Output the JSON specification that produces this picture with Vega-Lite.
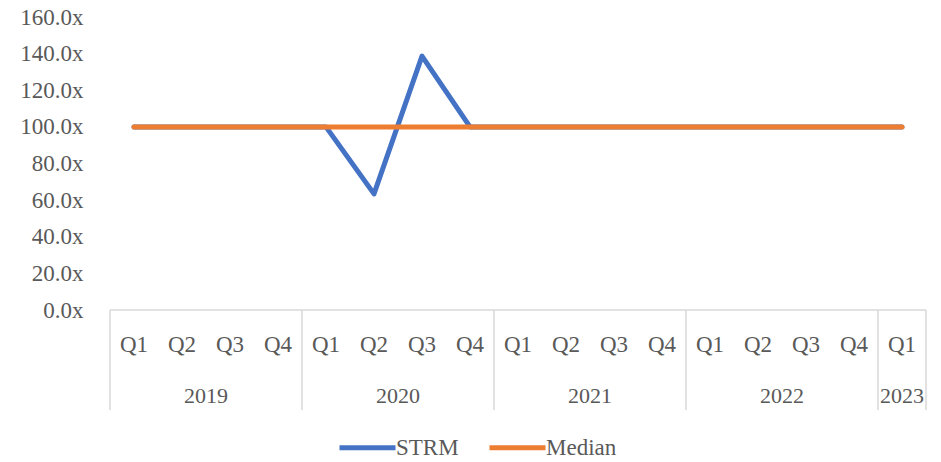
{
  "$schema": "https://vega.github.io/schema/vega-lite/v6.json",
  "width": 816,
  "height": 393,
  "autosize": {"type": "none"},
  "padding": {"left": 110, "top": 17, "right": 15, "bottom": 52},
  "config": {
    "font": "Liberation Serif",
    "view": {"stroke": null},
    "axis": {"labelFont": "Liberation Serif"},
    "text": {"font": "Liberation Serif"}
  },
  "datasets": {
    "series": [
      {"pos": 0.5, "series": "STRM", "value": 100},
      {"pos": 1.5, "series": "STRM", "value": 100},
      {"pos": 2.5, "series": "STRM", "value": 100},
      {"pos": 3.5, "series": "STRM", "value": 100},
      {"pos": 4.5, "series": "STRM", "value": 100},
      {"pos": 5.5, "series": "STRM", "value": 63.4},
      {"pos": 6.5, "series": "STRM", "value": 138.6},
      {"pos": 7.5, "series": "STRM", "value": 100},
      {"pos": 8.5, "series": "STRM", "value": 100},
      {"pos": 9.5, "series": "STRM", "value": 100},
      {"pos": 10.5, "series": "STRM", "value": 100},
      {"pos": 11.5, "series": "STRM", "value": 100},
      {"pos": 12.5, "series": "STRM", "value": 100},
      {"pos": 13.5, "series": "STRM", "value": 100},
      {"pos": 14.5, "series": "STRM", "value": 100},
      {"pos": 15.5, "series": "STRM", "value": 100},
      {"pos": 16.5, "series": "STRM", "value": 100},
      {"pos": 0.5, "series": "Median", "value": 100},
      {"pos": 1.5, "series": "Median", "value": 100},
      {"pos": 2.5, "series": "Median", "value": 100},
      {"pos": 3.5, "series": "Median", "value": 100},
      {"pos": 4.5, "series": "Median", "value": 100},
      {"pos": 5.5, "series": "Median", "value": 100},
      {"pos": 6.5, "series": "Median", "value": 100},
      {"pos": 7.5, "series": "Median", "value": 100},
      {"pos": 8.5, "series": "Median", "value": 100},
      {"pos": 9.5, "series": "Median", "value": 100},
      {"pos": 10.5, "series": "Median", "value": 100},
      {"pos": 11.5, "series": "Median", "value": 100},
      {"pos": 12.5, "series": "Median", "value": 100},
      {"pos": 13.5, "series": "Median", "value": 100},
      {"pos": 14.5, "series": "Median", "value": 100},
      {"pos": 15.5, "series": "Median", "value": 100},
      {"pos": 16.5, "series": "Median", "value": 100}
    ],
    "quarters": [
      {"pos": 0.5, "label": "Q1"}, {"pos": 1.5, "label": "Q2"}, {"pos": 2.5, "label": "Q3"}, {"pos": 3.5, "label": "Q4"},
      {"pos": 4.5, "label": "Q1"}, {"pos": 5.5, "label": "Q2"}, {"pos": 6.5, "label": "Q3"}, {"pos": 7.5, "label": "Q4"},
      {"pos": 8.5, "label": "Q1"}, {"pos": 9.5, "label": "Q2"}, {"pos": 10.5, "label": "Q3"}, {"pos": 11.5, "label": "Q4"},
      {"pos": 12.5, "label": "Q1"}, {"pos": 13.5, "label": "Q2"}, {"pos": 14.5, "label": "Q3"}, {"pos": 15.5, "label": "Q4"},
      {"pos": 16.5, "label": "Q1"}
    ],
    "years": [
      {"pos": 2, "label": "2019"},
      {"pos": 6, "label": "2020"},
      {"pos": 10, "label": "2021"},
      {"pos": 14, "label": "2022"},
      {"pos": 16.5, "label": "2023"}
    ],
    "seps": [{"pos": 0}, {"pos": 4}, {"pos": 8}, {"pos": 12}, {"pos": 16}, {"pos": 17}]
  },
  "layer": [
    {
      "data": {"name": "seps"},
      "mark": {"type": "rule", "color": "#D9D9D9", "strokeWidth": 1.5},
      "encoding": {
        "x": {"field": "pos", "type": "quantitative", "scale": {"domain": [0, 17], "nice": false, "zero": false}, "axis": null},
        "y": {"datum": 0, "type": "quantitative", "scale": {"domain": [-54.6, 160], "nice": false, "zero": false}},
        "y2": {"datum": -54.6}
      }
    },
    {
      "data": {"values": [{}]},
      "mark": {"type": "rule", "color": "#D9D9D9", "strokeWidth": 1.5},
      "encoding": {
        "x": {"datum": 0, "type": "quantitative"},
        "x2": {"datum": 17},
        "y": {"datum": 0, "type": "quantitative"}
      }
    },
    {
      "data": {"name": "quarters"},
      "mark": {"type": "text", "font": "Liberation Serif", "fontSize": 23, "color": "#595959", "baseline": "middle", "align": "center"},
      "encoding": {
        "x": {"field": "pos", "type": "quantitative"},
        "y": {"datum": -19, "type": "quantitative"},
        "text": {"field": "label"}
      }
    },
    {
      "data": {"name": "years"},
      "mark": {"type": "text", "font": "Liberation Serif", "fontSize": 22, "color": "#595959", "baseline": "middle", "align": "center"},
      "encoding": {
        "x": {"field": "pos", "type": "quantitative"},
        "y": {"datum": -47, "type": "quantitative"},
        "text": {"field": "label"}
      }
    },
    {
      "data": {"name": "series"},
      "mark": {"type": "line", "strokeWidth": 5, "strokeCap": "round", "strokeJoin": "round"},
      "encoding": {
        "x": {"field": "pos", "type": "quantitative"},
        "y": {
          "field": "value",
          "type": "quantitative",
          "axis": {
            "values": [0, 20, 40, 60, 80, 100, 120, 140, 160],
            "labelExpr": "format(datum.value, '.1f') + 'x'",
            "domain": false,
            "ticks": false,
            "grid": false,
            "labelPadding": 27,
            "labelFont": "Liberation Serif",
            "labelFontSize": 23,
            "labelColor": "#595959",
            "title": null
          }
        },
        "color": {
          "field": "series",
          "type": "nominal",
          "scale": {"domain": ["STRM", "Median"], "range": ["#4472C4", "#ED7D31"]},
          "legend": {
            "orient": "none",
            "direction": "horizontal",
            "legendX": 227,
            "legendY": 400,
            "title": null,
            "symbolType": "stroke",
            "symbolSize": 3136,
            "symbolStrokeWidth": 5,
            "labelFont": "serif",
            "labelFontSize": 23,
            "labelColor": "#595959",
            "labelOffset": -2,
            "columnPadding": 20,
            "labelLimit": 200
          }
        },
        "order": {"field": "series", "sort": "descending"}
      }
    }
  ]
}
